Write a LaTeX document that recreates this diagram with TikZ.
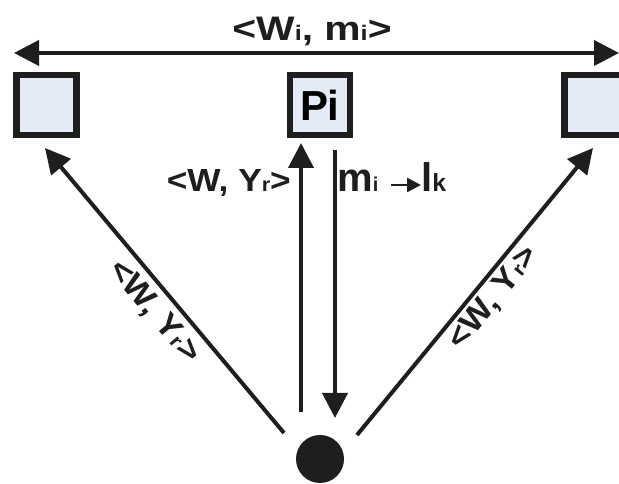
\documentclass[tikz,border=0pt]{standalone}
\usepackage{fontspec}
\setmainfont{Liberation Sans}
\usetikzlibrary{arrows.meta}
\definecolor{ink}{HTML}{1E1E1E}
\definecolor{boxfill}{HTML}{E4EBF7}
\newcommand\smallsub[1]{\scalebox{0.62}{#1}}
\tikzset{
  x=1pt,y=1pt,
  procbox/.style={draw=ink, fill=boxfill, line width=6.5pt, minimum width=60pt, minimum height=60pt, inner sep=0pt},
  conn/.style={draw=ink, line width=4pt, -{Triangle[length=25pt,width=25pt]}},
  lbl/.style={text=ink, font=\bfseries\fontsize{32}{32}\selectfont, inner sep=0pt},
  biglbl/.style={text=ink, font=\bfseries\fontsize{40}{40}\selectfont, inner sep=0pt},
}
\begin{document}
\begin{tikzpicture}
\useasboundingbox (0,0) rectangle (619,484);
% boxes
\node[procbox] (left) at (46.5,379) {};
\node[procbox] (mid) at (320,379) {\bfseries\fontsize{42}{42}\selectfont P\kern-1pt i};
\node[procbox] (right) at (594.5,379) {};
% dot
\node[circle, fill=ink, minimum size=48pt, inner sep=0pt] (dot) at (320,25) {};
% top double arrow
\coordinate (tl) at (14,431);
\coordinate (tr) at (619,431);
\draw[draw=ink, line width=4pt, {Triangle[length=25pt,width=25pt]}-{Triangle[length=25pt,width=25pt]}] (tl) -- (tr);
\node[text=ink, font=\bfseries\fontsize{34}{34}\selectfont, inner sep=0pt, anchor=base] (toplbl) at (312,443) {\scalebox{1.2}[1]{<W\smallsub{i}, m\smallsub{i}>}};
% vertical arrows
\coordinate (upS) at (301,72);
\coordinate (upE) at (301,341);
\draw[conn] (upS) -- (upE);
\coordinate (dnS) at (335,334);
\coordinate (dnE) at (335,66);
\draw[conn] (dnS) -- (dnE);
% diagonal arrows
\coordinate (lS) at (284,51);
\coordinate (lE) at (45,336);
\draw[conn] (lS) -- (lE);
\coordinate (rS) at (357,49);
\coordinate (rE) at (593,336);
\draw[conn] (rS) -- (rE);
% labels
\node[lbl, anchor=base east] (wyr) at (291,292) {\scalebox{1.1}[1]{<W, Y\smallsub{r}>}};
\node[biglbl, anchor=base west] (mi) at (337,292) {m\scalebox{0.5}{i}};
\node[biglbl, anchor=base west] (lk) at (421,292) {l\scalebox{0.62}{k}};
\draw[draw=ink, line width=2.6pt, -{Triangle[length=14pt,width=14pt]}] (391,299) -- (lk.west |- 0,299);
\node[lbl, rotate=-50] (wyrl) at (154,172) {\scalebox{1.1}[1]{<W, Y\smallsub{r}>}};
\node[lbl, rotate=51] (wyrr) at (494,186) {\scalebox{1.1}[1]{<W, Y\smallsub{r}>}};
\end{tikzpicture}
\end{document}
